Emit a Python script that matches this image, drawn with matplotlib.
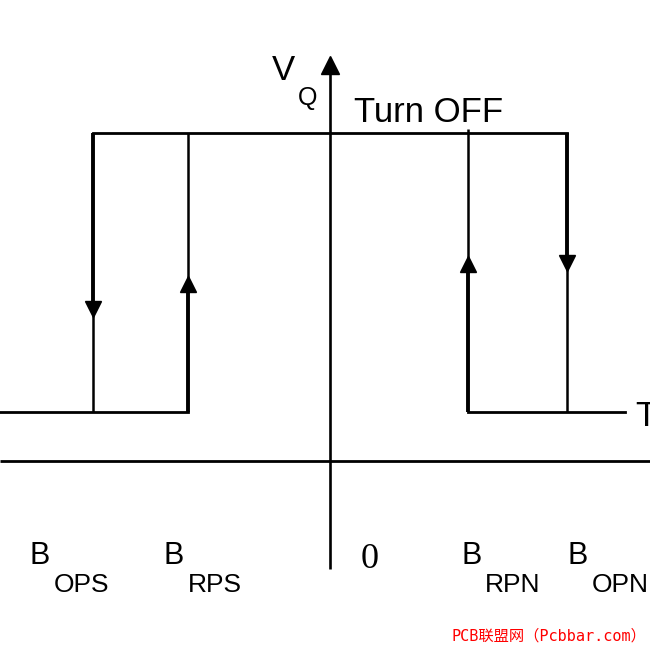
'''
Hysteresis diagram of a bipolar Hall switch: output V_Q against field B
'''
import matplotlib
matplotlib.use('Agg')
import matplotlib.pyplot as plt

plt.rcParams['font.family'] = ['Liberation Sans', 'DejaVu Sans']

# switching points on the field axis (origin = axis crossing)
b_names = ['OPS', 'RPS', 'RPN', 'OPN']
b_fields = [-237, -142, 138, 237]
b_arrow = ['down', 'up', 'up', 'down']
b_arrow_y = [152, 177, 197, 198]

# output levels
vq_on = 49
vq_off = 328

state_labels = ['Turn OFF', 'Turn ON']
watermark = 'PCB联盟网（Pcbbar.com）'

fig = plt.figure(figsize=(6.5, 6.5), dpi=100)
ax = fig.add_axes([0, 0, 1, 1])
ax.set_xlim(-330, 320)
ax.set_ylim(-189, 461)
ax.axis('off')

k = 'black'

# axes of the diagram
ax.plot([-330, 320], [0, 0], color=k, lw=2.0, solid_capstyle='butt')
ax.plot([0, 0], [-108, 390], color=k, lw=1.9, solid_capstyle='butt')
ax.plot([0], [396], marker='^', ms=12.5, color=k, mec=k)

# output levels
ax.plot([b_fields[0], b_fields[3]], [vq_off, vq_off], color=k, lw=2.0)
ax.plot([-330, b_fields[1]], [vq_on, vq_on], color=k, lw=2.0)
ax.plot([b_fields[2], 295], [vq_on, vq_on], color=k, lw=2.0)

# transitions with direction arrows
for x, d, ya in zip(b_fields, b_arrow, b_arrow_y):
    if d == 'down':
        ax.plot([x, x], [vq_off, ya], color=k, lw=2.8, solid_capstyle='butt')
        ax.plot([x, x], [ya, vq_on], color=k, lw=1.8, solid_capstyle='butt')
        ax.plot([x], [ya], marker='v', ms=12, color=k, mec=k)
    else:
        top = vq_off + (4 if x > 0 else 0)
        ax.plot([x, x], [vq_on, ya], color=k, lw=2.8, solid_capstyle='butt')
        ax.plot([x, x], [ya, top], color=k, lw=1.8, solid_capstyle='butt')
        ax.plot([x], [ya], marker='^', ms=12, color=k, mec=k)

# axis labels
ax.text(-58, 381, 'V', fontsize=25, va='baseline')
ax.text(-32, 356, 'Q', fontsize=18, va='baseline')
ax.text(24, 339, state_labels[0], fontsize=25, va='baseline')
ax.text(306, 35, state_labels[1], fontsize=25, va='baseline')
ax.text(31, -107, '0', fontsize=26, va='baseline',
        family=['Liberation Serif', 'DejaVu Serif'])

b_text_x = [-300, -166, 131, 238]
for name, x in zip(b_names, b_text_x):
    ax.text(x, -103, 'B', fontsize=22, va='baseline')
    ax.text(x + 24, -131, name, fontsize=19, va='baseline')

ax.text(316, -180, watermark, fontsize=11, color='red', ha='right', va='baseline',
        family=['DejaVu Sans Mono', 'Noto Sans CJK SC'])

fig.savefig('out.png', dpi=100)
